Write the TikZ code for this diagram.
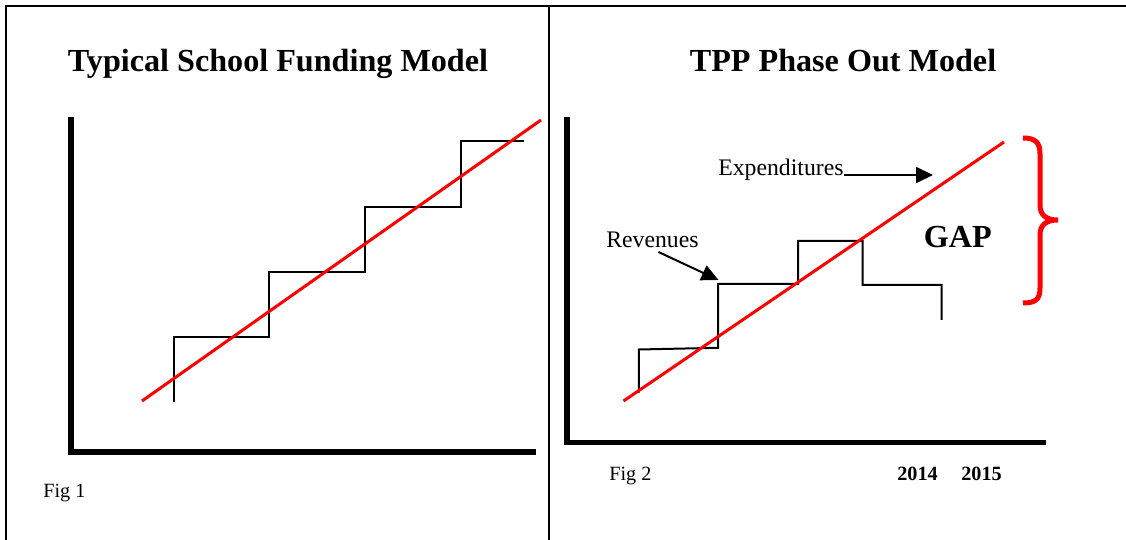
\documentclass[tikz,border=0pt]{standalone}
\usepackage{fontspec}
\setmainfont{Liberation Serif}
\usetikzlibrary{arrows.meta, calc}
\definecolor{trendred}{RGB}{255, 0, 0}
\tikzset{
  frameline/.style  = {line width=0.04cm, black},
  axisline/.style   = {line width=0.12cm, black},
  stairline/.style  = {line width=0.04cm, black},
  trendline/.style  = {line width=0.06cm, trendred},
  pointer/.style    = {-{Triangle[length=0.34cm, width=0.32cm]}, line width=0.04cm, black},
  gapbrace/.style   = {line width=0.1cm, trendred},
  paneltitle/.style = {font=\fontsize{18.3}{22}\selectfont\bfseries, inner sep=0pt, anchor=base},
  figlabel/.style   = {font=\fontsize{11.5}{14}\selectfont, inner sep=0pt, anchor=base west},
  yearlabel/.style  = {font=\fontsize{11.5}{14}\selectfont\bfseries, inner sep=0pt, anchor=base west},
  curvelabel/.style = {font=\fontsize{13.5}{16}\selectfont, inner sep=0pt, anchor=base west},
}

\begin{document}
\begin{tikzpicture}[x=0.02cm, y=-0.02cm]

\useasboundingbox (0,0) rectangle (1126,540);

% ===================== 外框 =====================
\draw[frameline] (6,540) -- (6,6) -- (1126,6);
\draw[frameline] (549,6) -- (549,540);

% ===================== Fig 1: 左图 =====================
\node[paneltitle] (t1) at (278,72) {Typical School Funding Model};

\draw[axisline] (71,117) -- (71,452) -- (536,452);

% 阶梯
\draw[stairline] (174,402) -- (174,337) -- (269,337) -- (269,272)
                 -- (365,272) -- (365,207) -- (461,207) -- (461,141) -- (524,141);

\draw[trendline] (142,401) -- (541,120);

\node[figlabel] (f1) at (43,498) {Fig 1};

% ===================== Fig 2: 右图 =====================
\node[paneltitle] (t2) at (843,72) {TPP Phase Out Model};

\draw[axisline] (567,117) -- (567,442.5) -- (1046,442.5);

% 阶梯 (回落)
\draw[stairline] (638.8,392.6) -- (638.8,349.5) -- (718,347.8) -- (718,284)
                 -- (798,284) -- (798,241) -- (862.7,241) -- (862.7,285)
                 -- (941.7,285) -- (941.7,320);

\draw[trendline] (623.5,401) -- (1004,142);

% 标注
\node[curvelabel] (exp) at (718,176) {Expenditures};
\node[curvelabel] (rev) at (606,248) {Revenues};
\node[paneltitle, anchor=base west] (gap) at (923.5,248) {GAP};

\coordinate (exptip) at (933,175);
\coordinate (revtip) at (718.5,280);

\draw[pointer] ($(exp.base east)+(0,-1)$) -- (exptip);
\draw[pointer] ($(rev.base)+(6,4)$) -- (revtip);

% GAP 括号
\draw[gapbrace] (1023,138) .. controls (1036,138) and (1040,143) .. (1040,154)
                -- (1040,205) .. controls (1040,215) and (1046,220) .. (1058,220)
                .. controls (1046,220) and (1040,225) .. (1040,235)
                -- (1040,288) .. controls (1040,299) and (1036,303) .. (1023,303);

\node[figlabel]  (f2) at (609,480) {Fig 2};
\node[yearlabel] (y14) at (897,480) {2014};
\node[yearlabel] (y15) at (961,480) {2015};

\end{tikzpicture}
\end{document}
